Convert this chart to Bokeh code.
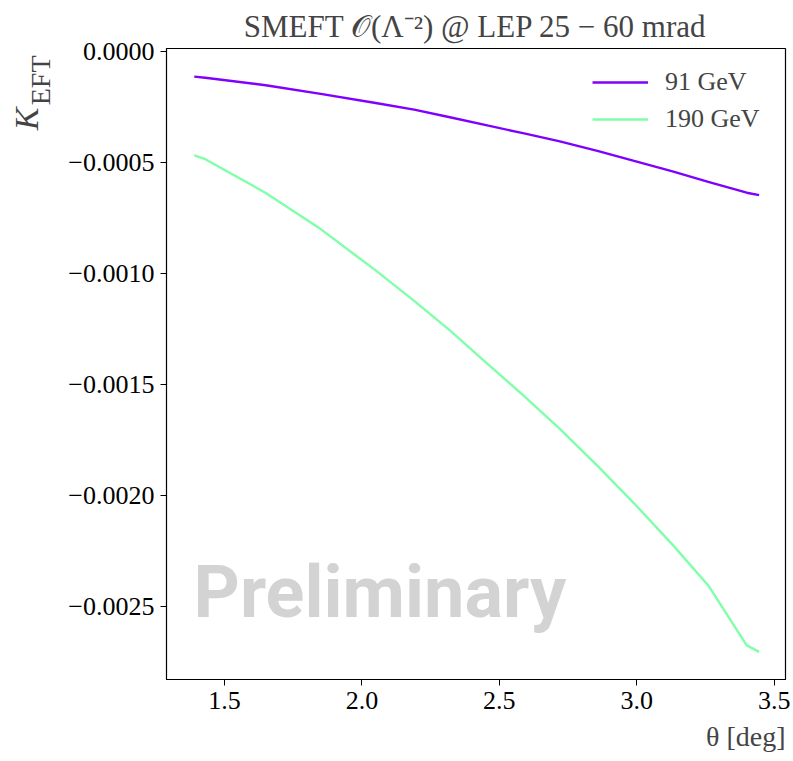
from bokeh.plotting import figure
from bokeh.models import Range1d, FixedTicker, CustomJSTickFormatter, Label, Title
from bokeh.embed import file_html
from bokeh.resources import INLINE

# ---- data ----
theta_deg = [1.39, 1.43, 1.65, 1.85, 2.05, 2.19, 2.32, 2.46, 2.59, 2.72,
             2.86, 2.99, 3.13, 3.26, 3.40, 3.445]
k_91 = [-0.000113, -0.000118, -0.000152, -0.000191, -0.000232, -0.000262,
        -0.000296, -0.000334, -0.000369, -0.000405, -0.000449, -0.000493,
        -0.000540, -0.000587, -0.000636, -0.000647]
k_190 = [-0.000468, -0.000485, -0.000637, -0.000800, -0.000986, -0.001123,
         -0.001256, -0.001410, -0.001552, -0.001700, -0.001870, -0.002035,
         -0.002221, -0.002405, -0.002675, -0.002704]
series_labels = ["91 GeV", "190 GeV"]
series_colors = ["#8000ff", "#80ffaa"]
x_ticks = [1.5, 2.0, 2.5, 3.0, 3.5]
y_ticks = [0.0, -0.0005, -0.0010, -0.0015, -0.0020, -0.0025]
title_text = "SMEFT \U0001D4AA(\u039b\u207b\u00b2) @ LEP 25 \u2212 60 mrad"

SERIF = "Liberation Serif"

p = figure(width=793, height=761, output_backend="svg", toolbar_location=None,
           x_range=Range1d(1.289, 3.541), y_range=Range1d(-0.0028286, 0.0000135),
           min_border_left=166, min_border_right=8, min_border_top=48,
           min_border_bottom=82)
p.background_fill_color = "white"
p.border_fill_color = "white"
p.outline_line_color = "black"
p.outline_line_width = 1.2
p.grid.visible = False

p.title.text = title_text
p.title.text_font = SERIF
p.title.text_font_size = "31px"
p.title.text_font_style = "normal"
p.title.align = "center"
p.title.standoff = 10

for ax in (p.xaxis[0], p.yaxis[0]):
    ax.major_label_text_font = SERIF
    ax.major_label_text_font_size = "26px"
    ax.major_label_text_color = "black"
    ax.axis_line_color = "black"
    ax.major_tick_line_color = "black"
    ax.major_tick_out = 6
    ax.major_tick_in = 0
    ax.minor_tick_line_color = None
    ax.major_label_standoff = 6

p.xaxis.ticker = FixedTicker(ticks=x_ticks)
p.yaxis.ticker = FixedTicker(ticks=y_ticks)
p.xaxis.formatter = CustomJSTickFormatter(code="return (tick < 0 ? '\u2212' : '') + Math.abs(tick).toFixed(1);")
p.yaxis.formatter = CustomJSTickFormatter(code="return (tick < 0 ? '\u2212' : '') + Math.abs(tick).toFixed(4);")

# watermark
p.add_layout(Label(x=27, y=87, x_units="screen", y_units="screen", text="Preliminary",
                   text_font="Roboto", text_font_style="bold",
                   text_font_size="72px", text_color="#d3d3d3",
                   text_align="left", text_baseline="alphabetic"))

for ys, lab, col in zip([k_91, k_190], series_labels, series_colors):
    p.line(theta_deg, ys, line_color=col, line_width=2.4, legend_label=lab)

lg = p.legend[0]
lg.location = (418, 537)
lg.border_line_alpha = 0
lg.background_fill_alpha = 0
lg.label_text_font = SERIF
lg.label_text_font_size = "26px"
lg.glyph_width = 56
lg.glyph_height = 30
lg.label_height = 30
lg.label_standoff = 17
lg.spacing = 7
lg.padding = 8
lg.margin = 0

# y-axis label K_EFT (subscript placed next to the K)
p.add_layout(Title(text="EFT", text_font=SERIF, text_font_size="28px",
                   text_font_style="normal", align="right", offset=7, standoff=19), "left")
p.add_layout(Title(text="K", text_font=SERIF, text_font_size="34px",
                   text_font_style="italic", align="right", offset=59, standoff=-63), "left")
# x-axis label
p.add_layout(Title(text="\u03b8 [deg]", text_font=SERIF, text_font_size="28px",
                   text_font_style="normal", align="right", standoff=14), "below")

open("out.html", "w").write(file_html(p, INLINE))
